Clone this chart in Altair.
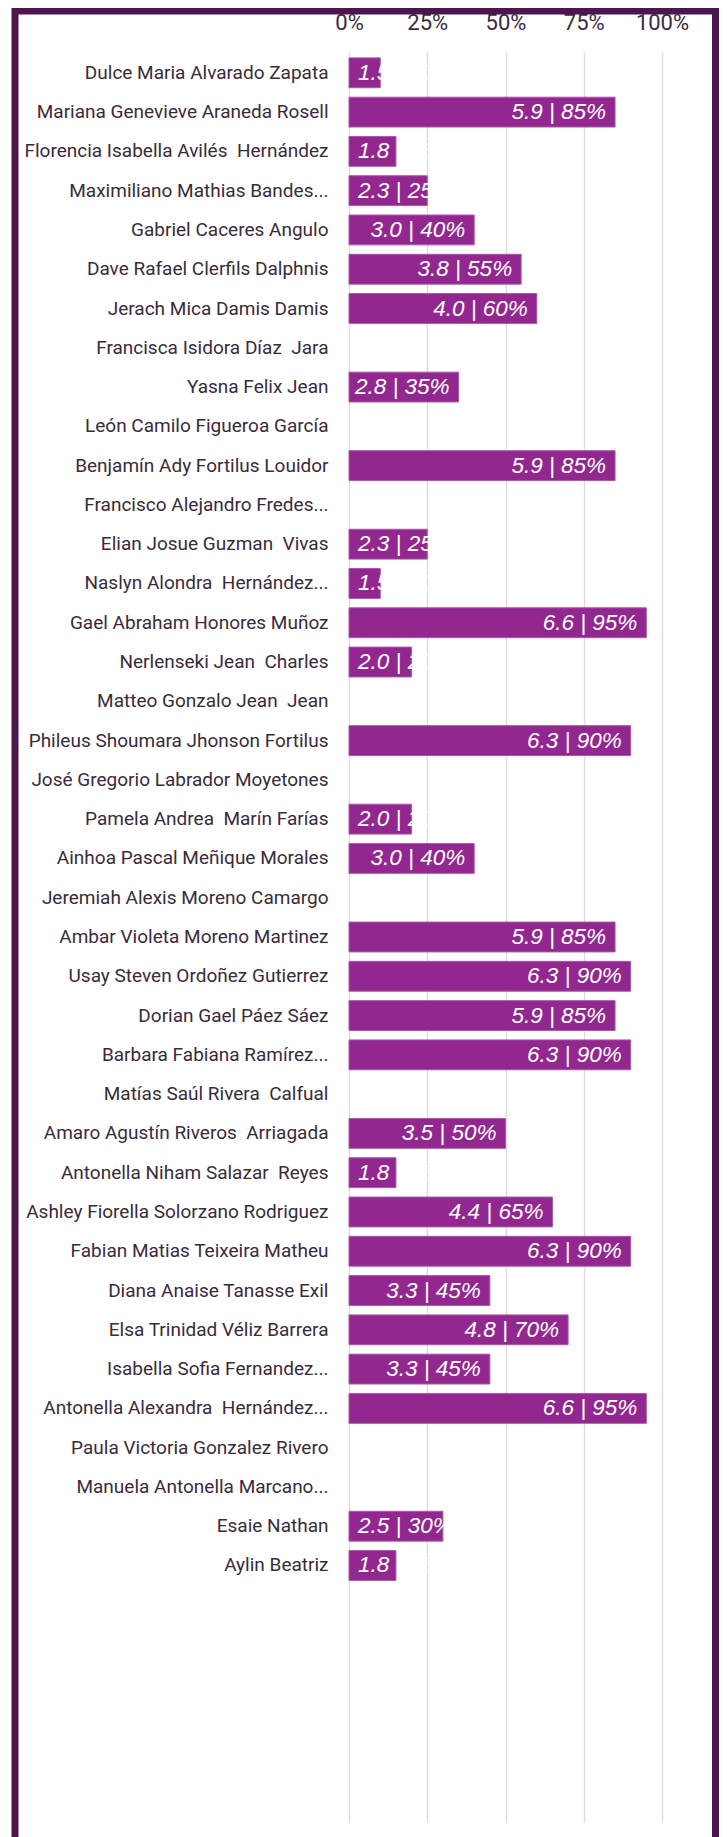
import altair as alt
import pandas as pd

names = [
    "Dulce Maria Alvarado Zapata",
    "Mariana Genevieve Araneda Rosell",
    "Florencia Isabella Avilés  Hernández",
    "Maximiliano Mathias Bandes...",
    "Gabriel Caceres Angulo",
    "Dave Rafael Clerfils Dalphnis",
    "Jerach Mica Damis Damis",
    "Francisca Isidora Díaz  Jara",
    "Yasna Felix Jean",
    "León Camilo Figueroa García",
    "Benjamín Ady Fortilus Louidor",
    "Francisco Alejandro Fredes...",
    "Elian Josue Guzman  Vivas",
    "Naslyn Alondra  Hernández...",
    "Gael Abraham Honores Muñoz",
    "Nerlenseki Jean  Charles",
    "Matteo Gonzalo Jean  Jean",
    "Phileus Shoumara Jhonson Fortilus",
    "José Gregorio Labrador Moyetones",
    "Pamela Andrea  Marín Farías",
    "Ainhoa Pascal Meñique Morales",
    "Jeremiah Alexis Moreno Camargo",
    "Ambar Violeta Moreno Martinez",
    "Usay Steven Ordoñez Gutierrez",
    "Dorian Gael Páez Sáez",
    "Barbara Fabiana Ramírez...",
    "Matías Saúl Rivera  Calfual",
    "Amaro Agustín Riveros  Arriagada",
    "Antonella Niham Salazar  Reyes",
    "Ashley Fiorella Solorzano Rodriguez",
    "Fabian Matias Teixeira Matheu",
    "Diana Anaise Tanasse Exil",
    "Elsa Trinidad Véliz Barrera",
    "Isabella Sofia Fernandez...",
    "Antonella Alexandra  Hernández...",
    "Paula Victoria Gonzalez Rivero",
    "Manuela Antonella Marcano...",
    "Esaie Nathan",
    "Aylin Beatriz",
]
grades = [1.5, 5.9, 1.8, 2.3, 3.0, 3.8, 4.0, None, 2.8, None, 5.9, None, 2.3, 1.5,
          6.6, 2.0, None, 6.3, None, 2.0, 3.0, None, 5.9, 6.3, 5.9, 6.3, None, 3.5,
          1.8, 4.4, 6.3, 3.3, 4.8, 3.3, 6.6, None, None, 2.5, 1.8]
pcts = [10, 85, 15, 25, 40, 55, 60, None, 35, None, 85, None, 25, 10,
        95, 20, None, 90, None, 20, 40, None, 85, 90, 85, 90, None, 50,
        15, 65, 90, 45, 70, 45, 95, None, None, 30, 15]
pad_rows = ["_pad1", "_pad2", "_pad3", "_pad4", "_pad5", "_pad6"]
ticks = [0, 25, 50, 75, 100]

display = [n.replace("  ", " \u00a0") for n in names]
domain = display + pad_rows

df = pd.DataFrame({"name": display, "grade": grades, "pct": pcts})
df = df.dropna().copy()
df["label"] = [f"{g:.1f} | {int(p)}%" for g, p in zip(df["grade"], df["pct"])]
df["zero"] = 0

TEXT = "#3a2b3b"
BAR = "#92278f"

yscale = alt.Scale(domain=domain, paddingInner=0.24, paddingOuter=0.15)
xscale = alt.Scale(domain=[0, 100], nice=False)

x_axis = alt.Axis(
    orient="top", values=ticks, labelExpr="datum.value + '%'", ticks=False,
    domain=False, grid=True, gridColor="#dcdadc", gridWidth=1.4,
    labelFont="Roboto", labelFontSize=22, labelColor=TEXT, labelFlush=False,
    labelOverlap=False, labelPadding=18, title=None)
y_axis = alt.Axis(
    title=None, ticks=False, domain=False, grid=False,
    labelExpr="indexof(datum.value, '_pad') == 0 ? '' : datum.value",
    labelFont="Roboto", labelFontSize=19, labelColor=TEXT,
    labelPadding=21, labelLimit=400)

base = alt.Chart(df)

bars = base.mark_bar(color=BAR, stroke="#a85aa6", strokeWidth=1).encode(
    x=alt.X("pct:Q", scale=xscale, axis=x_axis),
    y=alt.Y("name:N", scale=yscale, sort=domain, axis=y_axis),
)

txt_style = dict(baseline="middle", font="Liberation Sans", fontStyle="italic",
                 fontSize=22.5, color="white")

labels_in = base.transform_filter("datum.pct >= 35").mark_text(
    align="right", dx=-9, **txt_style).encode(
    x=alt.X("pct:Q", scale=xscale, axis=x_axis),
    y=alt.Y("name:N", scale=yscale, sort=domain, axis=y_axis),
    text="label:N",
)
labels_left = base.transform_filter("datum.pct < 35").mark_text(
    align="left", dx=9, **txt_style).encode(
    x=alt.X("zero:Q", scale=xscale, axis=x_axis),
    y=alt.Y("name:N", scale=yscale, sort=domain, axis=y_axis),
    text="label:N",
)

frame = alt.Chart(pd.DataFrame({"k": [0]})).mark_rect(
    fill="white", fillOpacity=0, stroke="#4a164c", strokeWidth=7).encode(
    x=alt.value(-334), x2=alt.value(366.5), y=alt.value(-41), y2=alt.value(1900))

chart = alt.layer(bars, labels_in, labels_left, frame).properties(
    width=313, height=1770,
    autosize=alt.AutoSizeParams(type="none"),
    padding={"left": 341, "top": 44, "right": 57, "bottom": 15},
    background="white",
).configure_view(strokeWidth=0)

chart.save("out.html", embed_options={"renderer": "svg", "actions": False})
